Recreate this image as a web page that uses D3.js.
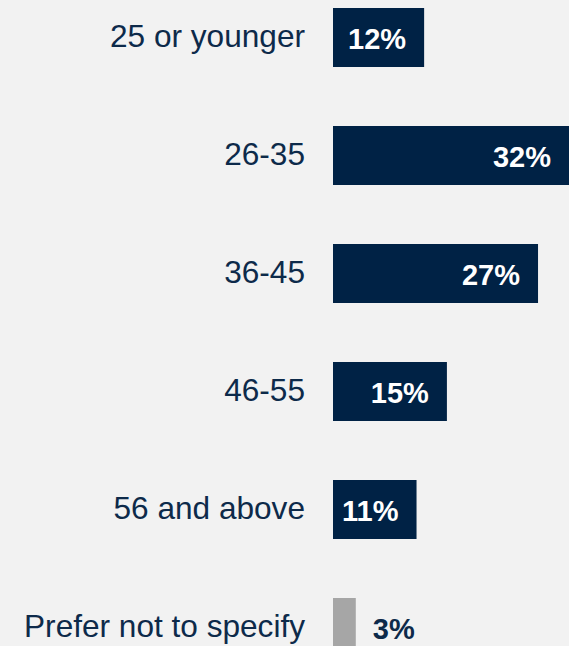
<!DOCTYPE html>
<html>
<head>
<meta charset="utf-8">
<script src="https://cdn.jsdelivr.net/npm/d3@7"></script>
<style>
  html, body { margin: 0; padding: 0; background: #f2f2f2; }
  svg { display: block; }
</style>
</head>
<body>
<svg id="chart" width="569" height="646"></svg>
<script>
// Age groups and share of respondents (%)
const categories = ["25 or younger", "26-35", "36-45", "46-55", "56 and above", "Prefer not to specify"];
const values = [12, 32, 27, 15, 11, 3];
const labels = ["12%", "32%", "27%", "15%", "11%", "3%"];
const muted = [false, false, false, false, false, true];

const W = 569, H = 646;
const navy = "#002245";
const textNavy = "#0d2a4a";
const grey = "#a6a6a6";

const svg = d3.select("#chart");
svg.append("rect").attr("width", W).attr("height", H).attr("fill", "#f2f2f2");

const y = d3.scaleBand()
  .domain(categories)
  .range([-21.5, 686.5])
  .paddingInner(0.5)
  .paddingOuter(0.25);

const x = d3.scaleLinear()
  .domain([0, 32])
  .range([333, 576]);

const rows = categories.map((c, i) => ({ cat: c, v: values[i], label: labels[i], muted: muted[i] }));

// Category labels, right-aligned to the left of the bars
const yAxis = d3.axisLeft(y).tickSize(0).tickPadding(0);
const axisG = svg.append("g")
  .attr("transform", "translate(305,0)")
  .call(yAxis);
axisG.select(".domain").remove();
axisG.selectAll("text")
  .attr("fill", textNavy)
  .attr("font-family", "Arial, 'Liberation Sans', sans-serif")
  .attr("font-size", 31.6)
  .attr("dy", "0.3em");

// Bars
svg.selectAll("rect.bar")
  .data(rows)
  .join("rect")
  .attr("class", "bar")
  .attr("x", x(0))
  .attr("y", d => y(d.cat))
  .attr("width", d => x(d.v) - x(0))
  .attr("height", y.bandwidth())
  .attr("fill", d => d.muted ? grey : navy);

// Value labels: inside the bar in white, or beside a muted bar in navy
svg.selectAll("text.val")
  .data(rows)
  .join("text")
  .attr("class", "val")
  .attr("x", d => d.muted ? x(d.v) + 17 : Math.min(x(d.v), W) - 18)
  .attr("y", d => y(d.cat) + y.bandwidth() / 2)
  .attr("dy", "0.38em")
  .attr("text-anchor", d => d.muted ? "start" : "end")
  .attr("fill", d => d.muted ? textNavy : "#ffffff")
  .attr("font-family", "Arial, 'Liberation Sans', sans-serif")
  .attr("font-weight", "bold")
  .attr("font-size", 29)
  .text(d => d.label);
</script>
</body>
</html>
